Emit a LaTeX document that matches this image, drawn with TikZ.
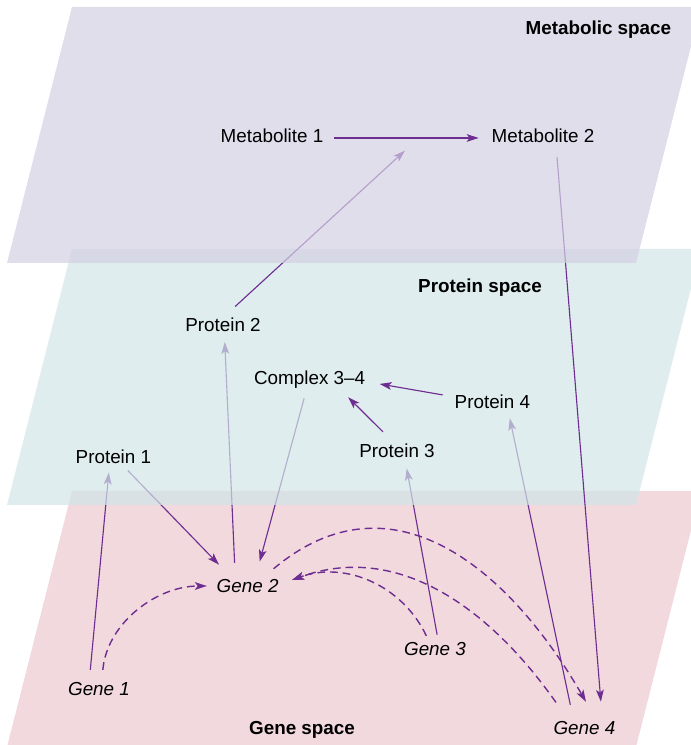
\documentclass[tikz,border=0pt]{standalone}
\usepackage{fontspec}
\setmainfont{Liberation Sans}
\usetikzlibrary{arrows.meta}
\definecolor{metfill}{RGB}{212,208,228}
\definecolor{protfill}{RGB}{209,229,231}
\definecolor{genefill}{RGB}{242,217,222}
\definecolor{purp}{RGB}{110,45,145}
\pgfdeclarelayer{genelayer}
\pgfdeclarelayer{protlayer}
\pgfdeclarelayer{metlayer}
\pgfsetlayers{genelayer,protlayer,metlayer,main}

\begin{document}
\begin{tikzpicture}[
    every node/.style={font=\fontsize{13.4}{16}\selectfont, text height=9.5pt, text depth=2.5pt, inner sep=2pt},
    space/.style={font=\fontsize{13.4}{16}\selectfont\bfseries},
    gene/.style={font=\fontsize{13.4}{16}\selectfont\itshape},
    link/.style={draw=purp, line width=0.8pt, -{Stealth[length=8.5pt,width=5.5pt,inset=2pt]}},
    reg/.style={link, line width=1pt, dash pattern=on 5.5pt off 3.5pt},
    plane/.style={fill opacity=0.7}
  ]
      \useasboundingbox (0,0) rectangle (17.275,18.625);
      %metabolic space
      \node (met1) at (6.8,15.175) {Metabolite 1};
      \node (met2) at (13.575,15.175) {Metabolite 2};
      \node[space] (metspace) at (14.96,17.89) {Metabolic space};
      \coordinate (m12) at (10.125,14.86);
      %protein space
      \node[space] (protspace) at (12.0,11.425) {Protein space};
      \node (prot2) at (5.575,10.45) {Protein 2};
      \node (complex) at (7.74,9.125) {Complex 3–4};
      \node (prot4) at (12.31,8.525) {Protein 4};
      \node (prot3) at (9.925,7.3) {Protein 3};
      \node (prot1) at (2.835,7.15) {Protein 1};
      %gene space
      \node[gene] (gene2) at (6.19,3.925) {Gene 2};
      \node[gene] (gene3) at (10.875,2.35) {Gene 3};
      \node[gene] (gene1) at (2.475,1.35) {Gene 1};
      \node[space] (genespace) at (7.55,0.375) {Gene space};
      \node[gene] (gene4) at (14.61,0.375) {Gene 4};

      \begin{pgfonlayer}{genelayer}
      \fill[genefill] (0.175,-0.05) -- ++(15.725,0) -- ++(1.625,6.4) -- ++(-15.725,0) -- cycle;
      %gene -> protein, protein -> gene
      \draw[link, shorten <=2.4mm, shorten >=0.5mm] ([xshift=-2.4mm]gene1.north) -- ([xshift=-1.1mm]prot1.south);
      \draw[link, shorten >=4.1mm] ([xshift=3.6mm]prot1.south) -- ([xshift=-4.3mm]gene2.north);
      \draw[link, shorten <=3.4mm, shorten >=0.85mm] ([xshift=-3.1mm]gene2.north) -- ([xshift=0.4mm]prot2.south);
      \draw[link, shorten <=1.75mm, shorten >=3.85mm] ([xshift=-0.9mm]complex.south) -- ([xshift=2mm]gene2.north);
      \draw[link, shorten <=1.2mm, shorten >=1mm] ([xshift=0.75mm]gene3.north) -- ([xshift=2.25mm]prot3.south);
      \draw[link, shorten <=3.5mm, shorten >=0.7mm] ([xshift=-2.8mm]gene4.north) -- ([xshift=4.2mm]prot4.south);
      \end{pgfonlayer}

      \begin{pgfonlayer}{protlayer}
      \fill[protfill, plane] (0.175,6) -- ++(15.725,0) -- ++(1.625,6.4) -- ++(-15.725,0) -- cycle;
      %protein -> metabolite, metabolite -> gene
      \draw[link, shorten <=3.3mm] ([xshift=0.6mm]prot2.north) -- (m12);
      \draw[link, shorten <=1.9mm, shorten >=4.2mm] ([xshift=3.35mm]met2.south) -- ([xshift=4.45mm]gene4.north);
      \end{pgfonlayer}

      \begin{pgfonlayer}{metlayer}
      \fill[metfill, plane] (0.175,12.05) -- ++(15.725,0) -- ++(1.625,6.4) -- ++(-15.725,0) -- cycle;
      \end{pgfonlayer}

      %within a space
      \draw[link, shorten <=2mm, shorten >=2.5mm] (met1.east) -- (met2.west);
      \draw[link, shorten <=3.4mm, shorten >=2mm] ([xshift=-1.1mm]prot3.north) -- ([xshift=8.2mm]complex.south);
      \draw[link, shorten <=2.25mm, shorten >=2.9mm] ([yshift=-1mm]prot4.north west) -- ([yshift=-0.5mm]complex.east);
      %regulation
      \draw[reg, shorten <=2.4mm, shorten >=1.7mm] ([xshift=0.75mm]gene1.north) to[out=85,in=180] ([yshift=0.5mm]gene2.west);
      \draw[reg, shorten <=3mm, shorten >=4.8mm] ([xshift=4.2mm]gene2.north) to[out=40,in=120,looseness=1.2] ([xshift=2.8mm]gene4.north);
      \draw[reg, shorten <=1mm] ([xshift=-1.75mm]gene3.north) to[out=115,in=20] ([shift={(2.6mm,2mm)}]gene2.east);
      \draw[reg, shorten <=4.9mm] ([xshift=-4.3mm]gene4.north) to[out=125,in=20] ([shift={(2.6mm,2mm)}]gene2.east);
\end{tikzpicture}
\end{document}
